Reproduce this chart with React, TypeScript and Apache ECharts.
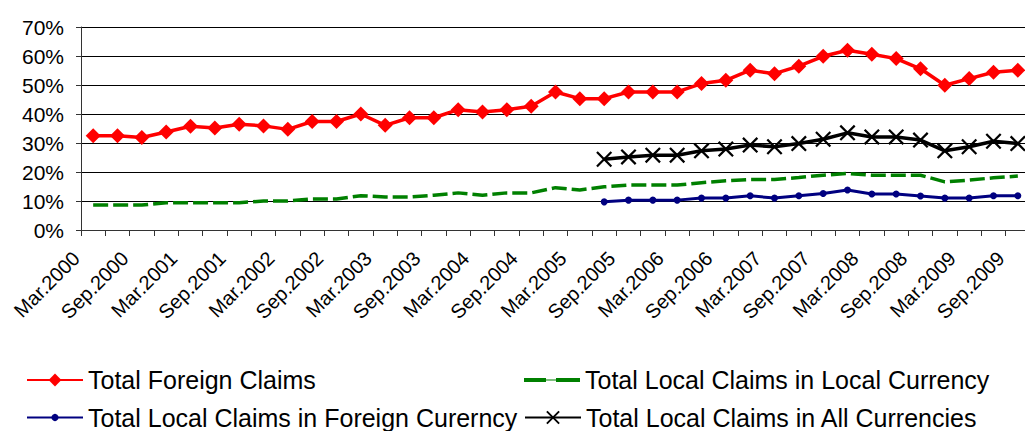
import React, { useEffect, useRef } from 'react';
import * as echarts from 'echarts';

const categories = [
  'Mar.2000', 'Jun.2000', 'Sep.2000', 'Dec.2000',
  'Mar.2001', 'Jun.2001', 'Sep.2001', 'Dec.2001',
  'Mar.2002', 'Jun.2002', 'Sep.2002', 'Dec.2002',
  'Mar.2003', 'Jun.2003', 'Sep.2003', 'Dec.2003',
  'Mar.2004', 'Jun.2004', 'Sep.2004', 'Dec.2004',
  'Mar.2005', 'Jun.2005', 'Sep.2005', 'Dec.2005',
  'Mar.2006', 'Jun.2006', 'Sep.2006', 'Dec.2006',
  'Mar.2007', 'Jun.2007', 'Sep.2007', 'Dec.2007',
  'Mar.2008', 'Jun.2008', 'Sep.2008', 'Dec.2008',
  'Mar.2009', 'Jun.2009', 'Sep.2009',
];

const foreignClaims = [
  32.5, 32.5, 31.9, 33.8, 35.8, 35.2, 36.5, 35.9, 34.7, 37.4,
  37.4, 40.0, 36.1, 38.7, 38.7, 41.5, 40.7, 41.5, 42.7, 47.6,
  45.3, 45.3, 47.6, 47.6, 47.6, 50.5, 51.6, 55.1, 53.9, 56.5,
  59.9, 62.0, 60.6, 59.1, 55.6, 49.9, 52.2, 54.4, 55.1,
];

const localInLocal = [
  8.6, 8.6, 8.6, 9.4, 9.4, 9.4, 9.4, 10.0, 10.0, 10.7,
  10.7, 11.8, 11.4, 11.4, 12.0, 12.8, 12.0, 12.8, 12.8, 14.6,
  13.8, 14.9, 15.5, 15.5, 15.5, 16.3, 17.0, 17.4, 17.4, 18.1,
  18.9, 19.5, 18.9, 18.9, 18.9, 16.6, 17.2, 18.0, 18.6,
];

const localInForeign = [
  null, null, null, null, null, null, null, null, null, null,
  null, null, null, null, null, null, null, null, null, null,
  null, 9.7, 10.3, 10.3, 10.3, 11.0, 11.0, 11.8, 11.0, 11.8,
  12.6, 13.8, 12.4, 12.4, 11.7, 11.0, 11.0, 11.8, 11.8,
];

const localInAll = [
  null, null, null, null, null, null, null, null, null, null,
  null, null, null, null, null, null, null, null, null, null,
  null, 24.4, 25.2, 25.8, 25.8, 27.3, 27.9, 29.3, 28.7, 29.8,
  31.3, 33.5, 32.1, 32.1, 31.0, 27.3, 28.7, 30.6, 29.8,
];

const seriesNames = [
  'Total Foreign Claims',
  'Total Local Claims in Local Currency',
  'Total Local Claims in Foreign Curerncy',
  'Total Local Claims in All Currencies',
];

const FONT = '"Liberation Sans", Arial, Helvetica, sans-serif';
const X_SYMBOL = 'path://M0,1 L1,0 L5,4 L9,0 L10,1 L6,5 L10,9 L9,10 L5,6 L1,10 L0,9 L4,5 Z';
const DASH_ICON = 'path://M0,0 H22 V4 H0 Z M32,0 H56 V4 H32 Z M22,1.4 H32 V2.6 H22 Z';

const legendItem = (entry: any, left: number, top: number, itemHeight = 14) => ({
  orient: 'horizontal',
  left,
  top,
  padding: 0,
  itemWidth: 56,
  itemHeight,
  data: [entry],
  textStyle: { fontFamily: FONT, fontSize: 25, lineHeight: 25, color: '#000' },
});

export default function App() {
  const ref = useRef<HTMLDivElement>(null);

  useEffect(() => {
    const chart = echarts.init(ref.current as HTMLDivElement, null, { renderer: 'svg' });
    chart.setOption({
      animation: false,
      backgroundColor: '#ffffff',
      textStyle: { fontFamily: FONT, color: '#000' },
      grid: {
        left: 81,
        top: 27,
        right: -5,
        bottom: 201,
        containLabel: false,
        outerBoundsMode: 'none',
      },
      legend: [
        legendItem(seriesNames[0], 26, 367.5, 16),
        legendItem(seriesNames[2], 26, 405, 9),
        legendItem({ name: seriesNames[1], icon: DASH_ICON }, 524, 367.5, 4),
        legendItem(seriesNames[3], 524, 405, 17),
      ],
      xAxis: {
        type: 'category',
        data: categories,
        boundaryGap: true,
        axisLine: { lineStyle: { color: '#333', width: 1 } },
        axisTick: { show: true, interval: 0, length: 6, lineStyle: { color: '#333' } },
        axisLabel: {
          interval: 1,
          rotate: 45,
          fontSize: 20,
          fontFamily: FONT,
          color: '#000',
          margin: 22,
          verticalAlign: 'bottom',
          padding: [0, 14, 0, 0],
        },
        splitLine: { show: false },
      },
      yAxis: {
        type: 'value',
        min: 0,
        max: 70,
        interval: 10,
        axisLine: { show: true, lineStyle: { color: '#333', width: 1 } },
        axisTick: { show: true, length: 5, lineStyle: { color: '#333' } },
        axisLabel: {
          formatter: '{value}%',
          fontSize: 21,
          fontFamily: FONT,
          color: '#000',
          margin: 17,
        },
        splitLine: { show: true, lineStyle: { color: '#000', width: 1 } },
      },
      series: [
        {
          name: seriesNames[1],
          type: 'line',
          data: localInLocal,
          symbol: 'none',
          lineStyle: { color: '#008000', width: 3.5, type: [15, 5] },
          itemStyle: { color: '#008000' },
          z: 2,
        },
        {
          name: seriesNames[2],
          type: 'line',
          data: localInForeign,
          symbol: 'circle',
          symbolSize: 7,
          lineStyle: { color: '#000080', width: 3 },
          itemStyle: { color: '#000080' },
          z: 3,
        },
        {
          name: seriesNames[3],
          type: 'line',
          data: localInAll,
          symbol: X_SYMBOL,
          symbolSize: 16,
          lineStyle: { color: '#000000', width: 3.5 },
          itemStyle: { color: '#000000' },
          z: 4,
        },
        {
          name: seriesNames[0],
          type: 'line',
          data: foreignClaims,
          symbol: 'diamond',
          symbolSize: 15,
          lineStyle: { color: '#ff0000', width: 3.5 },
          itemStyle: { color: '#ff0000' },
          z: 5,
        },
      ],
    });
    return () => chart.dispose();
  }, []);

  return (
    <div
      ref={ref}
      style={{ position: 'absolute', left: 0, top: 0, width: 1025, height: 431 }}
    />
  );
}
